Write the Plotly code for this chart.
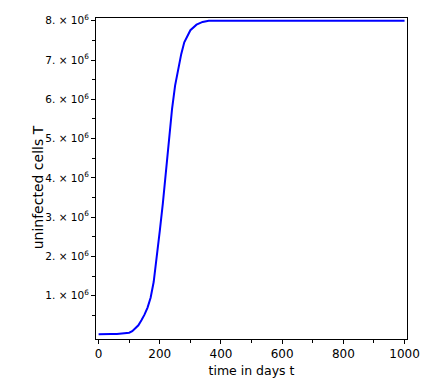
import plotly.graph_objects as go

# time in days
t_days = [0, 20, 40, 60, 80, 100, 110, 120, 130, 140, 150, 160, 170, 180, 190,
          200, 210, 220, 230, 240, 250, 260, 270, 280, 290, 300, 320, 340, 360,
          380, 400, 500, 600, 700, 800, 900, 1000]
# uninfected cells T (in millions)
T_million = [0.02, 0.03, 0.03, 0.03, 0.04, 0.06, 0.10, 0.17, 0.25, 0.38, 0.52,
             0.70, 0.95, 1.35, 1.95, 2.65, 3.35, 4.15, 4.95, 5.75, 6.35, 6.75,
             7.15, 7.45, 7.62, 7.76, 7.90, 7.97, 8.0, 8.0, 8.0, 8.0, 8.0, 8.0,
             8.0, 8.0, 8.0]
T_values = [v * 1e6 for v in T_million]

x_ticks = [0, 200, 400, 600, 800, 1000]
x_minor = [100, 300, 500, 700, 900]
y_ticks = [1e6, 2e6, 3e6, 4e6, 5e6, 6e6, 7e6, 8e6]
y_ticklabels = [f"{i}. \u00d7 10<sup>6</sup>" for i in range(1, 9)]
y_minor = [0.5e6, 1.5e6, 2.5e6, 3.5e6, 4.5e6, 5.5e6, 6.5e6, 7.5e6]

fig = go.Figure()
fig.add_trace(go.Scatter(x=t_days, y=T_values, mode="lines",
                         line=dict(color="rgb(0,0,255)", width=2),
                         showlegend=False))

family = "DejaVu Sans"
fig.update_layout(
    width=436, height=387,
    margin=dict(l=96, r=29, t=18, b=42),
    paper_bgcolor="white", plot_bgcolor="white",
    font=dict(family=family, size=12, color="black"),
    xaxis=dict(range=[-8.5, 1008], showgrid=False, zeroline=False,
               showline=True, linecolor="black", linewidth=1, mirror=True,
               ticks="outside", ticklen=4, tickcolor="black",
               tickmode="array", tickvals=x_ticks,
               ticktext=[str(v) for v in x_ticks],
               minor=dict(tickmode="array", tickvals=x_minor, ticks="outside",
                          ticklen=3, tickcolor="black"),
               title=dict(text="time in days t", standoff=5,
                          font=dict(family=family, size=12.5, color="black")),
               tickfont=dict(family=family, size=12, color="black")),
    yaxis=dict(range=[-0.1e6, 8.07e6], showgrid=False, zeroline=False,
               showline=True, linecolor="black", linewidth=1, mirror=True,
               ticks="outside", ticklen=4, tickcolor="black",
               tickmode="array", tickvals=y_ticks, ticktext=y_ticklabels,
               minor=dict(tickmode="array", tickvals=y_minor, ticks="outside",
                          ticklen=3, tickcolor="black"),
               tickfont=dict(family=family, size=10.5, color="black")),
    annotations=[dict(text="uninfected cells T", textangle=-90,
                      xref="paper", yref="paper",
                      x=(38 - 96) / 311, y=(345 - 190.5) / 327,
                      xanchor="center", yanchor="middle", showarrow=False,
                      font=dict(family=family, size=14, color="black"))],
)

fig.write_html("out.html")
